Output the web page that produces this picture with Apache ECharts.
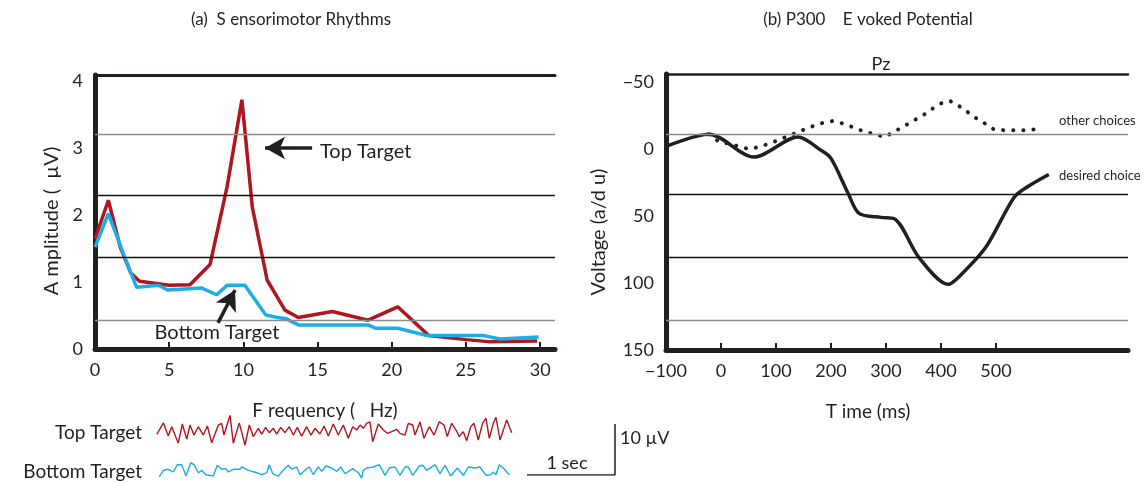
<!DOCTYPE html>
<html><head><meta charset="utf-8">
<script src="https://cdn.jsdelivr.net/npm/echarts@6/dist/echarts.min.js"></script>
<style>html,body{margin:0;padding:0;background:#fff}#c{width:1146px;height:483px}</style>
</head><body><div id="c"></div>
<script>
const FONT = 'Lato, "Noto Sans", sans-serif';
const INK = '#231f20';
const RED = '#b0161f';
const BLUE = '#1aaee5';

// ---- (a) Sensorimotor rhythms: amplitude spectra ----
const smrTopFreq = [0, 0.9, 1.7, 2.4, 3, 4, 5, 6.4, 7.75, 8.9, 9.9, 10.6, 11.6, 12.8, 13.7, 16.0, 18.4, 20.4, 22.5, 25, 26.5, 29.8];
const smrTopAmp  = [1.64, 2.22, 1.52, 1.14, 1.01, 0.98, 0.95, 0.96, 1.26, 2.42, 3.72, 2.12, 1.03, 0.58, 0.47, 0.56, 0.43, 0.63, 0.2, 0.14, 0.11, 0.12];
const smrBottomFreq = [0, 0.9, 1.9, 2.8, 4.3, 4.9, 7.2, 8.2, 8.9, 10.1, 11.5, 12.3, 12.9, 13.7, 18.4, 18.9, 20.4, 22.4, 26.2, 27.3, 29.9];
const smrBottomAmp  = [1.52, 2.02, 1.43, 0.92, 0.95, 0.88, 0.91, 0.81, 0.95, 0.95, 0.51, 0.47, 0.45, 0.36, 0.36, 0.31, 0.31, 0.2, 0.2, 0.15, 0.18];
const smrYLabels = [0, 1, 2, 3, 4];
const smrXLabels = [0, 5, 10, 15, 20, 25, 30];
const smrXTicks = [5, 10, 15, 20, 25, 30];
const smrGridLines = [0.43, 1.37, 2.30, 3.21];
const smrGridColors = ['#8c8c8c', '#111', '#111', '#8c8c8c'];
const topArrow = [[14.63, 3.0], [11.46, 3.0]];
const bottomArrow = [[8.29, 0.39], [9.44, 0.88]];

// ---- (b) P300 evoked potential at Pz ----
const p300DesiredTime = [-100, -22, 60, 140, 182, 200, 231, 251, 291, 315, 360, 413, 436, 482, 533, 558, 596];
const p300DesiredVolt = [-2, -11, 6, -9, 1, 7, 33, 48, 51, 52, 81, 101, 94, 73, 36, 28, 19];
const p300OtherTime = [-22, -2, 16, 35, 51, 69, 87, 107, 124, 142, 160, 180, 204, 222, 242, 260, 280, 298, 315, 333, 349, 367, 384, 400, 416, 433, 447, 464, 480, 495, 515, 536, 558, 578];
const p300OtherVolt = [-11, -5, -4, -1.5, 0, -1.5, -4, -7, -10, -13, -16, -19, -21, -19, -16, -13, -11, -9, -13, -17, -21, -25, -30, -34, -36, -32, -28, -23, -19, -15, -14, -14, -14, -15];
const p300YLabels = [-50, 0, 50, 100, 150];
const p300XLabels = [-100, 0, 100, 200, 300, 400, 500];
const p300XTicks = [0, 100, 200, 300, 400, 500];
const p300GridLines = [-11, 34, 81, 128];
const p300GridColors = ['#8c8c8c', '#111', '#111', '#8c8c8c'];

// ---- raw EEG traces (seconds, µV) ----
const traceTopTime = [0, 0.072, 0.128, 0.167, 0.242, 0.288, 0.338, 0.375, 0.42, 0.469, 0.526, 0.572, 0.622, 0.697, 0.735, 0.761, 0.83, 0.867, 0.935, 1.0, 1.049, 1.094, 1.151, 1.19, 1.235, 1.276, 1.322, 1.36, 1.406, 1.455, 1.503, 1.549, 1.594, 1.644, 1.701, 1.75, 1.795, 1.852, 1.898, 1.947, 2.003, 2.06, 2.117, 2.174, 2.224, 2.269, 2.307, 2.344, 2.383, 2.42, 2.451, 2.515, 2.572, 2.617, 2.667, 2.724, 2.761, 2.818, 2.856, 2.906, 2.932, 2.989, 3.034, 3.094, 3.148, 3.208, 3.261, 3.299, 3.349, 3.398, 3.435, 3.481, 3.519, 3.565, 3.602, 3.651, 3.701, 3.739, 3.776, 3.822, 3.852, 3.898, 3.943, 3.974, 4.031];
const traceTopAmp  = [-0.4, 1.8, -0.8, 1.04, -2.2, 1.57, -1.4, 1.37, -0.6, 1.04, -0.6, 1.18, -2.1, 1.37, 1.7, -0.6, 3.3, -2.2, 1.8, -2.55, 1.37, -0.9, 0.73, -0.4, 0.92, -0.14, 0.73, -0.4, 0.92, -0.14, 1.04, -0.6, 0.92, -0.8, 1.04, -0.6, 0.73, -0.4, 1.18, -0.8, 1.57, -0.6, 1.37, -1.24, 1.04, 0.39, 1.37, 0.73, 1.7, 2.0, -1.9, 1.57, 0.39, -0.26, 0.06, 0.53, -0.26, -0.6, 1.7, 1.37, -0.6, 2.0, -1.24, 1.04, -0.6, 2.0, 1.37, -0.9, 1.7, 0.39, -0.9, 0.06, -1.7, 1.04, 1.7, -1.57, 1.8, 2.7, -1.24, 1.7, 2.88, -1.57, 0.73, 2.35, -0.14];
const traceBottomTime = [0.026, 0.072, 0.128, 0.185, 0.231, 0.281, 0.33, 0.383, 0.42, 0.469, 0.508, 0.557, 0.64, 0.685, 0.735, 0.784, 0.81, 0.867, 0.943, 0.963, 1.038, 1.133, 1.19, 1.247, 1.276, 1.315, 1.378, 1.435, 1.492, 1.531, 1.588, 1.625, 1.701, 1.731, 1.776, 1.833, 1.872, 1.92, 1.985, 2.042, 2.088, 2.136, 2.224, 2.288, 2.326, 2.344, 2.383, 2.458, 2.526, 2.591, 2.64, 2.705, 2.761, 2.818, 2.856, 2.906, 2.981, 3.019, 3.065, 3.159, 3.216, 3.273, 3.337, 3.413, 3.481, 3.538, 3.614, 3.67, 3.739, 3.792, 3.822, 3.852, 3.89, 3.935, 4.003];
const traceBottomAmp  = [-1.37, -0.06, 0.14, -0.39, 1.04, 1.04, -1.18, 1.43, 1.04, -0.53, -0.06, -0.92, -1.18, 0.92, 0.14, 0.26, -0.39, 0.14, 0.14, 0.59, -0.06, -0.53, -0.92, -0.53, 1.04, -0.73, -1.18, -0.06, 0.92, 0.14, 0.59, -0.92, 0.26, 0.59, -0.92, 0.59, -0.26, 0.78, 0.39, -0.26, 0.59, -0.73, 0.26, -0.53, -1.57, -0.06, 0.39, 0.59, 1.04, -1.04, 0.39, 0.59, -1.04, 0.59, 0.59, -1.04, 0.78, 0.92, -0.06, 1.04, -0.73, 0.92, -1.18, 0.39, -1.04, 0.59, 0.39, 0.59, -1.04, -0.92, -0.39, -0.92, 1.04, 0.39, -0.92];
const scaleBarTime = [0, 1, 1];
const scaleBarAmp  = [0, 0, 10];

const zip = (a, b) => a.map((v, i) => [v, b[i]]);
const minus = v => String(v).replace('-', '\u2212');

const hiddenAxis = (extra) => Object.assign({
  type: 'value', show: false, axisLine: {show: false, onZero: false}, axisTick: {show: false},
  axisLabel: {show: false}, splitLine: {show: false}
}, extra);

const labelStyle = {fontFamily: FONT, fontSize: 18, color: INK};

const option = {
  animation: false,
  backgroundColor: '#fff',
  grid: [
    {left: 95, top: 75, width: 460, height: 274},
    {left: 666, top: 74, width: 462, height: 276},
    {left: 157, top: 416, width: 355, height: 32},
    {left: 157, top: 458, width: 355, height: 24},
    {left: 527, top: 424, width: 88, height: 51}
  ],
  xAxis: [
    {type: 'value', gridIndex: 0, min: 0, max: 31,
     axisLine: {onZero: false, lineStyle: {color: INK, width: 5}},
     axisTick: {show: true, inside: true, length: 7, lineStyle: {color: INK, width: 2}, customValues: smrXTicks},
     axisLabel: Object.assign({margin: 12, customValues: smrXLabels}, labelStyle),
     splitLine: {show: false},
     name: 'F requency (   Hz)', nameLocation: 'middle', nameGap: 52,
     nameTextStyle: {fontFamily: FONT, fontSize: 19, color: INK}},
    {type: 'value', gridIndex: 0, min: 0, max: 31, position: 'top',
     axisLine: {onZero: false, lineStyle: {color: INK, width: 3}}, axisTick: {show: false},
     axisLabel: {show: false}, splitLine: {show: false}},
    {type: 'value', gridIndex: 1, min: -100, max: 740,
     axisLine: {onZero: false, lineStyle: {color: INK, width: 5}},
     axisTick: {show: true, inside: true, length: 7, lineStyle: {color: INK, width: 2}, customValues: p300XTicks},
     axisLabel: Object.assign({margin: 12, customValues: p300XLabels, formatter: minus}, labelStyle),
     splitLine: {show: false},
     name: 'T ime (ms)', nameLocation: 'middle', nameGap: 52,
     nameTextStyle: {fontFamily: FONT, fontSize: 19, color: INK, padding: [0, 58, 0, 0]}},
    {type: 'value', gridIndex: 1, min: -100, max: 740, position: 'top',
     axisLine: {onZero: false, lineStyle: {color: INK, width: 2.5}}, axisTick: {show: false},
     axisLabel: {show: false}, splitLine: {show: false}},
    hiddenAxis({gridIndex: 2, min: 0, max: 355 / 88}),
    hiddenAxis({gridIndex: 3, min: 0, max: 355 / 88}),
    hiddenAxis({gridIndex: 4, min: 0, max: 1})
  ],
  yAxis: [
    {type: 'value', gridIndex: 0, min: 0, max: 4.09,
     axisLine: {show: true, onZero: false, lineStyle: {color: INK, width: 5}},
     axisTick: {show: false},
     axisLabel: Object.assign({margin: 12, customValues: smrYLabels}, labelStyle),
     splitLine: {show: false},
     name: 'A mplitude (  µV)', nameLocation: 'middle', nameGap: 33,
     nameTextStyle: {fontFamily: FONT, fontSize: 20, color: INK, padding: [0, 18, 0, 0]}},
    {type: 'value', gridIndex: 1, min: -56, max: 150, inverse: true,
     axisLine: {show: true, onZero: false, lineStyle: {color: INK, width: 5}},
     axisTick: {show: false},
     axisLabel: Object.assign({margin: 12, customValues: p300YLabels, formatter: minus}, labelStyle),
     splitLine: {show: false},
     name: 'Voltage (a/d u)', nameLocation: 'middle', nameGap: 57,
     nameTextStyle: {fontFamily: FONT, fontSize: 20, color: INK, padding: [0, 40, 0, 0]}},
    hiddenAxis({gridIndex: 2, min: -3.14, max: 3.14}),
    hiddenAxis({gridIndex: 3, min: -2.35, max: 2.35}),
    hiddenAxis({gridIndex: 4, min: 0, max: 10})
  ],
  series: [
    {type: 'line', xAxisIndex: 0, yAxisIndex: 0, data: [], silent: true,
     markLine: {silent: true, symbol: 'none', animation: false, label: {show: false},
       data: smrGridLines.map((v, i) => ({yAxis: v, lineStyle: {color: smrGridColors[i], width: 1.3, type: 'solid'}}))}},
    {type: 'line', xAxisIndex: 0, yAxisIndex: 0, data: zip(smrTopFreq, smrTopAmp),
     showSymbol: false, symbol: 'none', lineStyle: {color: RED, width: 3.5}, z: 3},
    {type: 'line', xAxisIndex: 0, yAxisIndex: 0, data: zip(smrBottomFreq, smrBottomAmp),
     showSymbol: false, symbol: 'none', lineStyle: {color: BLUE, width: 3.5}, z: 4},
    {type: 'line', xAxisIndex: 0, yAxisIndex: 0, data: [], silent: true, z: 5,
     markLine: {silent: true, animation: false, label: {show: false}, symbol: ['none', 'arrow'], symbolSize: [17, 20],
       lineStyle: {color: INK, width: 3.5, type: 'solid'},
       data: [
         [{coord: topArrow[0]}, {coord: topArrow[1]}],
         [{coord: bottomArrow[0]}, {coord: bottomArrow[1]}]
       ]}},
    {type: 'line', xAxisIndex: 2, yAxisIndex: 1, data: [], silent: true,
     markLine: {silent: true, symbol: 'none', animation: false, label: {show: false},
       data: p300GridLines.map((v, i) => ({yAxis: v, lineStyle: {color: p300GridColors[i], width: 1.3, type: 'solid'}}))}},
    {type: 'line', xAxisIndex: 2, yAxisIndex: 1, data: zip(p300OtherTime, p300OtherVolt),
     showSymbol: false, symbol: 'none',
     lineStyle: {color: INK, width: 4, type: [0.1, 10], cap: 'round'}, z: 3},
    {type: 'line', xAxisIndex: 2, yAxisIndex: 1, data: zip(p300DesiredTime, p300DesiredVolt),
     showSymbol: false, symbol: 'none', smooth: 0.3,
     lineStyle: {color: INK, width: 3.5}, z: 4},
    {type: 'line', xAxisIndex: 4, yAxisIndex: 2, data: zip(traceTopTime, traceTopAmp),
     showSymbol: false, symbol: 'none', lineStyle: {color: RED, width: 1.4}},
    {type: 'line', xAxisIndex: 5, yAxisIndex: 3, data: zip(traceBottomTime, traceBottomAmp),
     showSymbol: false, symbol: 'none', lineStyle: {color: BLUE, width: 1.4}},
    {type: 'line', xAxisIndex: 6, yAxisIndex: 4, data: zip(scaleBarTime, scaleBarAmp),
     showSymbol: false, symbol: 'none', lineStyle: {color: INK, width: 1.5}}
  ],
  graphic: [
    {type: 'text', x: 291, y: 20, style: {text: '(a)  S ensorimotor Rhythms', font: '17px ' + FONT, fill: INK, align: 'center', verticalAlign: 'middle'}},
    {type: 'text', x: 868, y: 20, style: {text: '(b) P300    E voked Potential', font: '17px ' + FONT, fill: INK, align: 'center', verticalAlign: 'middle'}},
    {type: 'text', x: 881, y: 64, style: {text: 'Pz', font: '18px ' + FONT, fill: INK, align: 'center', verticalAlign: 'middle'}},
    {type: 'text', x: 1059, y: 121, style: {text: 'other choices', font: '13px ' + FONT, fill: INK, align: 'left', verticalAlign: 'middle'}},
    {type: 'text', x: 1059, y: 176, style: {text: 'desired choice', font: '13px ' + FONT, fill: INK, align: 'left', verticalAlign: 'middle'}},
    {type: 'text', x: 320, y: 152, style: {text: 'Top Target', font: '20px ' + FONT, fill: INK, align: 'left', verticalAlign: 'middle'}},
    {type: 'text', x: 217, y: 333, style: {text: 'Bottom Target', font: '20px ' + FONT, fill: INK, align: 'center', verticalAlign: 'middle'}},
    {type: 'text', x: 142, y: 433, style: {text: 'Top Target', font: '19px ' + FONT, fill: INK, align: 'right', verticalAlign: 'middle'}},
    {type: 'text', x: 142, y: 472, style: {text: 'Bottom Target', font: '19px ' + FONT, fill: INK, align: 'right', verticalAlign: 'middle'}},
    {type: 'text', x: 620, y: 438, style: {text: '10 µV', font: '18px ' + FONT, fill: INK, align: 'left', verticalAlign: 'middle'}},
    {type: 'text', x: 567, y: 463, style: {text: '1 sec', font: '18px ' + FONT, fill: INK, align: 'center', verticalAlign: 'middle'}}
  ]
};

const chart = echarts.init(document.getElementById('c'), null, {renderer: 'canvas'});
chart.setOption(option);
</script>
</body></html>
